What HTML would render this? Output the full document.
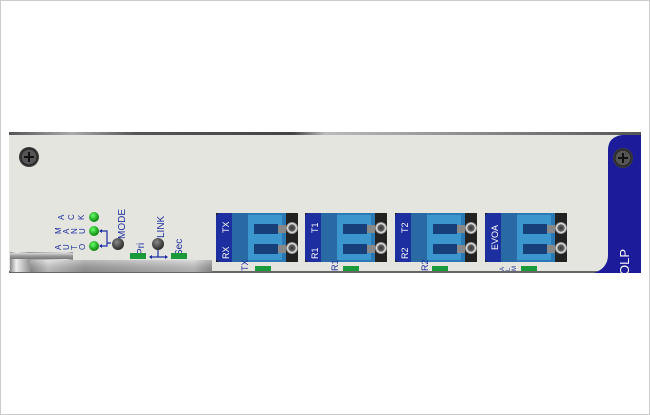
<!DOCTYPE html>
<html><head><meta charset="utf-8"><style>
html,body{margin:0;padding:0;background:#fff;}
svg{display:block;font-family:"Liberation Sans",sans-serif;}
</style></head><body>
<svg width="650" height="415" viewBox="0 0 650 415" xmlns="http://www.w3.org/2000/svg">
<defs>
<linearGradient id="top" x1="0" x2="1" y1="0" y2="0">
<stop offset="0" stop-color="#555"/><stop offset="0.1" stop-color="#aaa"/><stop offset="0.2" stop-color="#555"/><stop offset="0.45" stop-color="#444"/><stop offset="0.5" stop-color="#bbb"/><stop offset="1" stop-color="#555"/>
</linearGradient>
<linearGradient id="bar" x1="0" x2="0" y1="0" y2="1">
<stop offset="0" stop-color="#d8d8d8"/><stop offset="0.5" stop-color="#9a9a9a"/><stop offset="1" stop-color="#777"/>
</linearGradient>
<linearGradient id="barh" x1="0" x2="1" y1="0" y2="0">
<stop offset="0" stop-color="#888"/><stop offset="0.1" stop-color="#eee"/><stop offset="0.3" stop-color="#999"/><stop offset="0.9" stop-color="#ddd"/><stop offset="1" stop-color="#888"/>
</linearGradient>
<radialGradient id="led" cx="0.4" cy="0.35" r="0.7"><stop offset="0" stop-color="#6f6"/><stop offset="1" stop-color="#070"/></radialGradient>
<radialGradient id="btn" cx="0.4" cy="0.35" r="0.7"><stop offset="0" stop-color="#888"/><stop offset="1" stop-color="#222"/></radialGradient>
<radialGradient id="fib" cx="0.5" cy="0.5" r="0.5"><stop offset="0" stop-color="#333"/><stop offset="0.55" stop-color="#666"/><stop offset="0.7" stop-color="#eee"/><stop offset="1" stop-color="#777"/></radialGradient>
<g id="screw">
<circle r="10" fill="#3a3a3a"/><circle r="8" fill="#555" stroke="#222"/>
<path d="M-5 0H5M0 -5V5" stroke="#111" stroke-width="2"/>
</g>
<g id="port">
<rect x="0" y="0" width="82" height="49" fill="#222"/>
<rect x="0" y="0" width="20" height="49" rx="4" fill="#1d2ea0"/>
<rect x="16" y="0" width="54" height="49" fill="#2a78b4"/>
<rect x="16" y="0" width="16" height="49" fill="#2a6aa4"/>
<rect x="32" y="2" width="34" height="45" fill="#3a96cc"/>
<path d="M38 11h24v10h-24zM38 31h24v10h-24z" fill="#17407a"/>
<path d="M62 12h8v8h-8zM62 32h8v8h-8z" fill="#888"/>
<circle cx="76" cy="15" r="6" fill="url(#fib)"/>
<circle cx="76" cy="35" r="6" fill="url(#fib)"/>
</g>
</defs>
<rect x="0.5" y="0.5" width="649" height="414" fill="#fff" stroke="#ccc"/>
<rect x="9" y="133" width="632" height="140" fill="#e5e5df"/>
<rect x="9" y="132" width="632" height="3" fill="url(#top)"/>
<rect x="9" y="271" width="632" height="2" fill="#666"/>
<path d="M622 135 H641 V273 H594 Q608 268 608 255 V150 Q608 137 622 135 Z" fill="#1c1c9a"/>
<text transform="translate(629,275) rotate(-90)" font-size="13" fill="#fff">OLP</text>
<use href="#screw" x="623" y="158"/>
<use href="#screw" x="29" y="157"/>
<rect x="10" y="252" width="63" height="20" fill="url(#barh)"/>
<rect x="10" y="253" width="63" height="6" fill="url(#bar)"/>
<rect x="30" y="260" width="182" height="12" fill="url(#barh)"/>
<rect x="30" y="260" width="182" height="12" fill="url(#bar)" opacity="0.5"/>
<g font-size="8" fill="#1d2ea0">
<text transform="translate(64,220) rotate(-90)">A</text><text transform="translate(74,220) rotate(-90)">C</text><text transform="translate(84,220) rotate(-90)">K</text>
<text transform="translate(61,234) rotate(-90)">M</text><text transform="translate(69,234) rotate(-90)">A</text><text transform="translate(77,234) rotate(-90)">N</text><text transform="translate(85,234) rotate(-90)">U</text>
<text transform="translate(61,250) rotate(-90)">A</text><text transform="translate(69,250) rotate(-90)">U</text><text transform="translate(77,250) rotate(-90)">T</text><text transform="translate(85,250) rotate(-90)">O</text>
</g>
<circle cx="94" cy="217" r="5" fill="url(#led)"/>
<circle cx="94" cy="231" r="5" fill="url(#led)"/>
<circle cx="94" cy="246" r="5" fill="url(#led)"/>
<path d="M100 231H107V246H100M107 243H111" stroke="#1d2ea0" stroke-width="1.2" fill="none"/>
<path d="M99 231l3-2v4zM99 246l3-2v4z" fill="#1d2ea0"/>
<circle cx="118" cy="244" r="6" fill="url(#btn)"/>
<circle cx="158" cy="244" r="6" fill="url(#btn)"/>
<g font-size="10" fill="#1d2ea0">
<text transform="translate(125,239) rotate(-90)">MODE</text>
<text transform="translate(164,238) rotate(-90)">LINK</text>
<text transform="translate(144,255) rotate(-90)">Pri</text>
<text transform="translate(182,256) rotate(-90)">Sec</text>
</g>
<rect x="130" y="253" width="16" height="6" fill="#1a9a3a"/>
<rect x="171" y="253" width="16" height="6" fill="#1a9a3a"/>
<path d="M150 257H167M158 250V257" stroke="#1d2ea0" stroke-width="1.2"/>
<path d="M149 257l3-2v4zM168 257l-3-2v4z" fill="#1d2ea0"/>
<use href="#port" x="216" y="213"/>
<use href="#port" x="305" y="213"/>
<use href="#port" x="395" y="213"/>
<use href="#port" x="485" y="213"/>
<g font-size="9" fill="#fff">
<text transform="translate(229,259) rotate(-90)">RX</text><text transform="translate(229,233) rotate(-90)">TX</text>
<text transform="translate(318,259) rotate(-90)">R1</text><text transform="translate(318,233) rotate(-90)">T1</text>
<text transform="translate(408,259) rotate(-90)">R2</text><text transform="translate(408,233) rotate(-90)">T2</text>
<text transform="translate(498,250) rotate(-90)">EVOA</text>
</g>
<g font-size="9" fill="#1d2ea0">
<text transform="translate(248,271) rotate(-90)">TX</text>
<text transform="translate(338,271) rotate(-90)">R1</text>
<text transform="translate(428,271) rotate(-90)">R2</text>
</g>
<g font-size="6" fill="#1d2ea0">
<text transform="translate(504,271) rotate(-90)">A</text><text transform="translate(510,271) rotate(-90)">L</text><text transform="translate(516,271) rotate(-90)">M</text>
</g>
<rect x="255" y="266" width="16" height="5" fill="#1a9a3a"/>
<rect x="343" y="266" width="16" height="5" fill="#1a9a3a"/>
<rect x="432" y="266" width="16" height="5" fill="#1a9a3a"/>
<rect x="521" y="266" width="16" height="5" fill="#1a9a3a"/>
</svg>
</body></html>
